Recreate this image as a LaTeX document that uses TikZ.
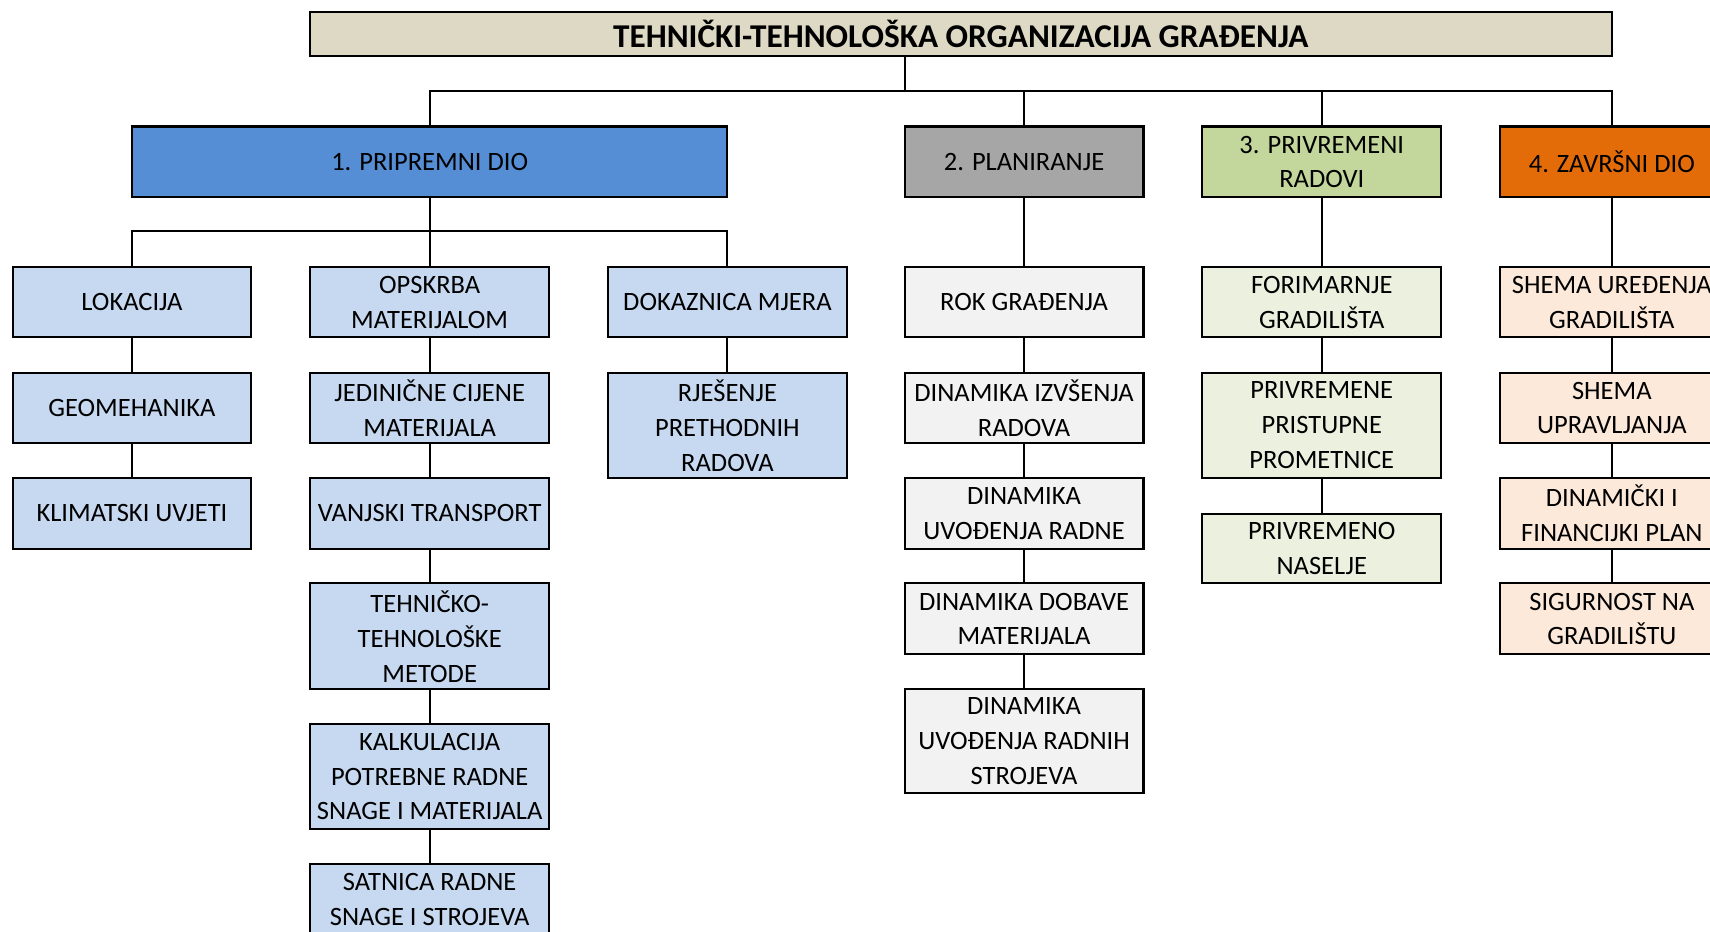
\documentclass[tikz,border=0pt]{standalone}
\usepackage{fontspec}
\setmainfont{Carlito}
\definecolor{titlec}{HTML}{DDD9C4}
\definecolor{blueA}{HTML}{558ED5}
\definecolor{blueB}{HTML}{C6D9F1}
\definecolor{grayA}{HTML}{A6A6A6}
\definecolor{grayB}{HTML}{F2F2F2}
\definecolor{greenA}{HTML}{C3D69B}
\definecolor{greenB}{HTML}{EBF1DE}
\definecolor{orangeA}{HTML}{E36C09}
\definecolor{orangeB}{HTML}{FDE9D9}
\tikzset{
  box/.style={draw=black, line width=1.9pt, minimum width=219pt, minimum height=64pt,
    align=center, inner sep=0pt, text depth=0pt, font=\fontsize{24.3}{32}\selectfont},
  conn/.style={draw=black, line width=1.8pt},
  bl/.style={box, fill=blueB}, gr/.style={box, fill=grayB},
  gn/.style={box, fill=greenB}, og/.style={box, fill=orangeB},
}
\begin{document}
\begin{tikzpicture}[x=1pt,y=-1pt]
\useasboundingbox (0,0) rectangle (1568,854);
\clip (0,0) rectangle (1568,854);
\fill[white] (0,0) rectangle (1568,854);
% title
\node[box, fill=titlec, minimum width=1194pt, minimum height=40pt, font=\fontsize{30.5}{34}\selectfont\bfseries] (title) at (881,31) {TEHNIČKI-TEHNOLOŠKA ORGANIZACIJA GRAĐENJA};
% level 1
\node[box, fill=blueA, minimum width=546pt, minimum height=65pt] (p1) at (394,148.5) {1. PRIPREMNI DIO};
\node[box, fill=grayA, minimum height=65pt] (p2) at (939,148.5) {2. PLANIRANJE};
\node[box, fill=greenA, minimum height=65pt] (p3) at (1212,148.5) {3. PRIVREMENI\\RADOVI};
\node[box, fill=orangeA, minimum width=206pt, minimum height=65pt] (p4) at (1478,148.5) {4. ZAVRŠNI DIO};
% column 1
\node[bl] (a1) at (121,277) {LOKACIJA};
\node[bl] (a2) at (121,374) {GEOMEHANIKA};
\node[bl, minimum height=65pt] (a3) at (121,470.5) {KLIMATSKI UVJETI};
% column 2
\node[bl] (c1) at (394,277) {OPSKRBA\\MATERIJALOM};
\node[bl] (c2) at (394,374) {JEDINIČNE CIJENE\\MATERIJALA};
\node[bl, minimum height=65pt] (c3) at (394,470.5) {VANJSKI TRANSPORT};
\node[bl, minimum height=97pt] (c4) at (394,583.5) {TEHNIČKO-\\TEHNOLOŠKE\\METODE};
\node[bl, minimum height=96pt] (c5) at (394,712) {KALKULACIJA\\POTREBNE RADNE\\SNAGE I MATERIJALA};
\node[bl, minimum height=66pt] (c6) at (394,825) {SATNICA RADNE\\SNAGE I STROJEVA};
% column 3
\node[bl] (d1) at (667,277) {DOKAZNICA MJERA};
\node[bl, minimum height=96pt] (d2) at (667,390) {RJEŠENJE\\PRETHODNIH\\RADOVA};
% column 4
\node[gr] (e1) at (939,277) {ROK GRAĐENJA};
\node[gr] (e2) at (939,374) {DINAMIKA IZVŠENJA\\RADOVA};
\node[gr, minimum height=65pt] (e3) at (939,470.5) {DINAMIKA\\UVOĐENJA RADNE};
\node[gr, minimum height=65pt] (e4) at (939,567.5) {DINAMIKA DOBAVE\\MATERIJALA};
\node[gr, minimum height=95pt] (e5) at (939,679.5) {DINAMIKA\\UVOĐENJA RADNIH\\STROJEVA};
% column 5
\node[gn] (f1) at (1212,277) {FORIMARNJE\\GRADILIŠTA};
\node[gn, minimum height=96pt] (f2) at (1212,390) {PRIVREMENE\\PRISTUPNE\\PROMETNICE};
\node[gn] (f3) at (1212,503) {PRIVREMENO\\NASELJE};
% column 6
\node[og, minimum width=206pt] (g1) at (1478,277) {SHEMA UREĐENJA\\GRADILIŠTA};
\node[og, minimum width=206pt] (g2) at (1478,374) {SHEMA\\UPRAVLJANJA};
\node[og, minimum width=206pt, minimum height=65pt] (g3) at (1478,470.5) {DINAMIČKI I\\FINANCIJKI PLAN};
\node[og, minimum width=206pt, minimum height=65pt] (g4) at (1478,567.5) {SIGURNOST NA\\GRADILIŠTU};
% connectors top
\coordinate (bus) at (830,83);
\draw[conn] (title.south -| bus) -- (bus);
\draw[conn] (bus) -| (p1.north);
\draw[conn] (bus) -| (p2.north);
\draw[conn] (bus) -| (p3.north);
\draw[conn] (bus) -| (p4.north);
% under p1
\coordinate (bus1) at (394,212);
\draw[conn] (p1.south) -- (bus1);
\draw[conn] (bus1) -| (a1.north);
\draw[conn] (bus1) -- (c1.north);
\draw[conn] (bus1) -| (d1.north);
% chains
\draw[conn] (a1.south) -- (a2.north);
\draw[conn] (a2.south) -- (a3.north);
\draw[conn] (c1.south) -- (c2.north);
\draw[conn] (c2.south) -- (c3.north);
\draw[conn] (c3.south) -- (c4.north);
\draw[conn] (c4.south) -- (c5.north);
\draw[conn] (c5.south) -- (c6.north);
\draw[conn] (d1.south) -- (d2.north);
\draw[conn] (p2.south) -- (e1.north);
\draw[conn] (e1.south) -- (e2.north);
\draw[conn] (e2.south) -- (e3.north);
\draw[conn] (e3.south) -- (e4.north);
\draw[conn] (e4.south) -- (e5.north);
\draw[conn] (p3.south) -- (f1.north);
\draw[conn] (f1.south) -- (f2.north);
\draw[conn] (f2.south) -- (f3.north);
\draw[conn] (p4.south) -- (g1.north);
\draw[conn] (g1.south) -- (g2.north);
\draw[conn] (g2.south) -- (g3.north);
\draw[conn] (g3.south) -- (g4.north);
\end{tikzpicture}
\end{document}
